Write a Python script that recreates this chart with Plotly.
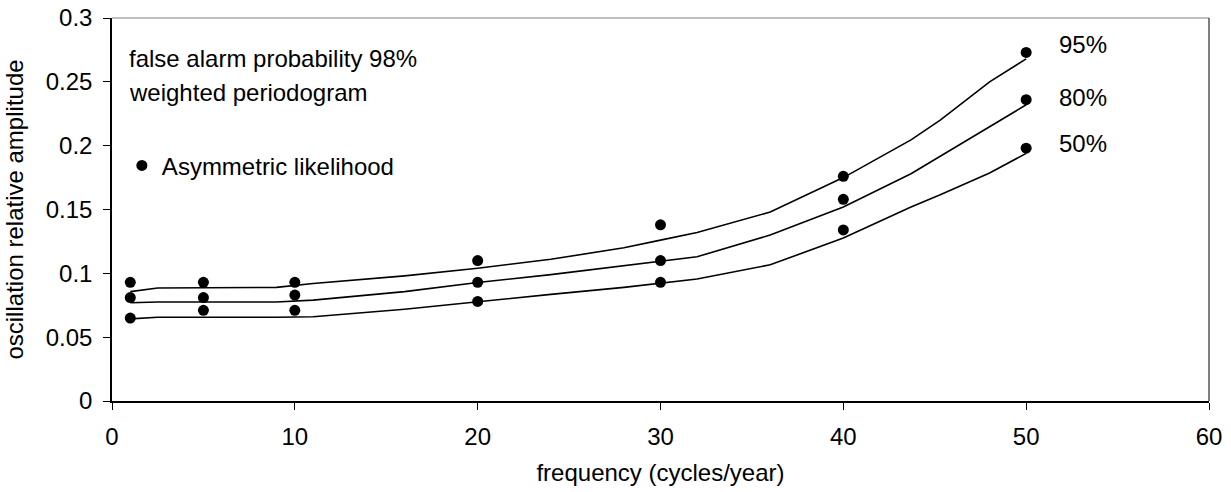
import plotly.graph_objects as go

# measured points (asymmetric likelihood)
point_freq = [1, 5, 10, 20, 30, 40, 50]
amp_95 = [0.093, 0.093, 0.093, 0.110, 0.138, 0.176, 0.273]
amp_80 = [0.081, 0.081, 0.083, 0.093, 0.110, 0.158, 0.236]
amp_50 = [0.065, 0.071, 0.071, 0.078, 0.093, 0.134, 0.198]

# weighted periodogram threshold curves
curve_freq = [1, 2.5, 9, 11, 16, 20, 24, 28, 30, 32, 36, 40, 43.7, 45.3, 48, 50]
curve_95 = [0.0857, 0.0885, 0.089, 0.092, 0.098, 0.104, 0.111, 0.120, 0.126,
            0.132, 0.148, 0.175, 0.2045, 0.220, 0.250, 0.268]
curve_80 = [0.077, 0.0776, 0.0776, 0.079, 0.0857, 0.0928, 0.099, 0.106, 0.1094,
            0.113, 0.130, 0.152, 0.178, 0.1916, 0.215, 0.232]
curve_50 = [0.0643, 0.0656, 0.0656, 0.066, 0.0719, 0.0779, 0.0835, 0.089, 0.0923,
            0.0955, 0.1067, 0.1276, 0.152, 0.1615, 0.1786, 0.194]

level_labels = ["95%", "80%", "50%"]
label_y = [0.2795, 0.2375, 0.202]

FONT = "Liberation Sans, Arial, sans-serif"
FS = 24

fig = go.Figure()

for c in [curve_95, curve_80, curve_50]:
    fig.add_trace(go.Scatter(
        x=curve_freq, y=c, mode="lines",
        line=dict(color="black", width=1.6),
        showlegend=False, hoverinfo="skip",
    ))

fig.add_trace(go.Scatter(
    x=point_freq * 3, y=amp_95 + amp_80 + amp_50,
    mode="markers", name="Asymmetric likelihood",
    marker=dict(color="black", size=11),
))

for lab, ly in zip(level_labels, label_y):
    fig.add_annotation(x=51.7, y=ly, text=lab, showarrow=False,
                       xanchor="left", yanchor="middle",
                       font=dict(size=FS, color="black"))

fig.add_annotation(xref="paper", yref="paper", x=0.014, y=0.893,
                   text="false alarm probability 98%", showarrow=False,
                   xanchor="left", yanchor="middle",
                   font=dict(size=FS, color="black"))
fig.add_annotation(xref="paper", yref="paper", x=0.014, y=0.806,
                   text="weighted periodogram", showarrow=False,
                   xanchor="left", yanchor="middle",
                   font=dict(size=FS, color="black"))

# top (grey) and right frame lines
fig.add_shape(type="line", xref="paper", yref="paper", x0=0, x1=1, y0=1, y1=1,
              line=dict(color="#808080", width=1))
fig.add_shape(type="line", xref="paper", yref="paper", x0=1, x1=1, y0=0, y1=1,
              line=dict(color="black", width=1))

fig.update_layout(
    width=1231, height=492,
    margin=dict(l=112, r=22, t=18, b=91),
    paper_bgcolor="white", plot_bgcolor="white",
    font=dict(family=FONT, size=FS, color="black"),
    showlegend=True,
    legend=dict(x=0.009, y=0.614, xanchor="left", yanchor="middle",
                bgcolor="rgba(0,0,0,0)", itemwidth=30,
                font=dict(size=FS)),
    xaxis=dict(
        range=[0, 60], tickvals=[0, 10, 20, 30, 40, 50, 60],
        showgrid=False, zeroline=False, automargin=False,
        showline=True, linecolor="black", linewidth=1.5,
        ticks="outside", ticklen=7, tickcolor="black",
        ticklabelstandoff=6, tickfont=dict(size=FS),
        title=dict(text="frequency (cycles/year)", standoff=16,
                   font=dict(size=FS)),
    ),
    yaxis=dict(
        range=[0, 0.3], tickvals=[0, 0.05, 0.1, 0.15, 0.2, 0.25, 0.3],
        ticktext=["0", "0.05", "0.1", "0.15", "0.2", "0.25", "0.3"],
        showgrid=False, zeroline=False, automargin=False,
        showline=True, linecolor="black", linewidth=1.5,
        ticks="outside", ticklen=7, tickcolor="black",
        ticklabelstandoff=6, tickfont=dict(size=FS),
        title=dict(text="oscillation relative amplitude", standoff=15,
                   font=dict(size=FS)),
    ),
)

# drop the default page margin so the figure sits at the window corner
fig.write_html("out.html", config={"displayModeBar": False},
               post_script="document.body.style.margin = '0';")
